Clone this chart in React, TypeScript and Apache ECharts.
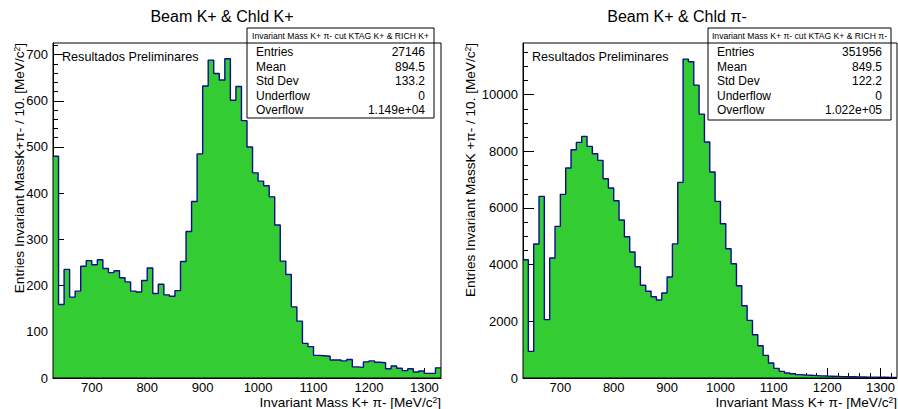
import React, { useEffect, useRef } from "react";
import * as echarts from "echarts";

// ---- data ----
const binStart = 630;
const binWidth = 10;
const xMin = 630;
const xMax = 1330;

const leftCounts = [
  480, 159, 235, 175, 188, 242, 254, 245, 256, 237,
  228, 232, 217, 208, 188, 186, 211, 238, 183, 203,
  180, 177, 189, 252, 317, 382, 485, 632, 688, 659,
  645, 691, 601, 631, 557, 500, 444, 426, 416, 392,
  331, 253, 224, 154, 123, 75, 68, 49, 48, 47,
  39, 39, 37, 40, 24, 23, 35, 37, 34, 33,
  20, 26, 21, 16, 20, 13, 15, 10, 10, 22,
];

const rightCounts = [
  4174, 941, 4727, 6408, 2058, 4233, 5350, 6479, 7407, 8054,
  8313, 8524, 8172, 7913, 7678, 7031, 6702, 6255, 5573, 4985,
  4444, 3927, 3274, 3062, 2868, 2750, 2997, 3561, 4732, 6902,
  11252, 11157, 10334, 9311, 8325, 7266, 6232, 5444, 4562, 4033,
  3256, 2549, 2032, 1526, 1138, 798, 527, 340, 234, 175,
  150, 120, 105, 95, 85, 75, 68, 62, 56, 50,
  46, 42, 38, 35, 32, 30, 27, 25, 22, 20,
];

const xMajorTicks = [700, 800, 900, 1000, 1100, 1200, 1300];
const xMinorTicks = [
  640, 660, 680, 720, 740, 760, 780, 820, 840, 860, 880, 920, 940, 960, 980,
  1020, 1040, 1060, 1080, 1120, 1140, 1160, 1180, 1220, 1240, 1260, 1280, 1320,
];
const leftYMajor = [0, 100, 200, 300, 400, 500, 600, 700];
const leftYMinor = [
  20, 40, 60, 80, 120, 140, 160, 180, 220, 240, 260, 280, 320, 340, 360, 380,
  420, 440, 460, 480, 520, 540, 560, 580, 620, 640, 660, 680, 720,
];
const rightYMajor = [0, 2000, 4000, 6000, 8000, 10000];
const rightYMinor = [
  500, 1000, 1500, 2500, 3000, 3500, 4500, 5000, 5500, 6500, 7000, 7500,
  8500, 9000, 9500, 10500, 11000, 11500,
];

const leftTitle = "Beam K+ & Chld K+";
const rightTitle = "Beam K+ & Chld π-";
const leftStatHeader = "Invariant Mass K+ π- cut KTAG K+ & RICH K+";
const rightStatHeader = "Invariant Mass K+ π- cut KTAG K+ & RICH π-";
const statLabels = ["Entries", "Mean", "Std Dev", "Underflow", "Overflow"];
const leftStatValues = ["27146", "894.5", "133.2", "0", "1.149e+04"];
const rightStatValues = ["351956", "849.5", "122.2", "0", "1.022e+05"];
const leftYTitle = "Entries Invariant MassK+π- / 10. [MeV/c";
const rightYTitle = "Entries Invariant MassK +π- / 10. [MeV/c";
const xTitle = "Invariant Mass K+ π- [MeV/c";
const prelimText = "Resultados Preliminares";

const FONT = '"Liberation Sans", Arial, Helvetica, sans-serif';

function histData(counts: number[]) {
  const d: number[][] = counts.map((v, i) => [binStart + i * binWidth, v]);
  d.push([xMax, counts[counts.length - 1]]);
  return d;
}

type Panel = {
  left: number; top: number; width: number; height: number; yMax: number;
  yMajor: number[]; yMinor: number[]; counts: number[];
  title: string; titleX: number; statHeader: string; statValues: string[];
  box: { x: number; y: number; w: number; h: number; labelX: number; valueX: number };
  yTitle: string; yTitleX: number;
};

const panels: Panel[] = [
  {
    left: 53, top: 43, width: 388, height: 335, yMax: 725,
    yMajor: leftYMajor, yMinor: leftYMinor, counts: leftCounts,
    title: leftTitle, titleX: 222, statHeader: leftStatHeader, statValues: leftStatValues,
    box: { x: 247, y: 28, w: 187, h: 90, labelX: 256, valueX: 425 },
    yTitle: leftYTitle, yTitleX: 19,
  },
  {
    left: 523, top: 43, width: 374, height: 335, yMax: 11820,
    yMajor: rightYMajor, yMinor: rightYMinor, counts: rightCounts,
    title: rightTitle, titleX: 677, statHeader: rightStatHeader, statValues: rightStatValues,
    box: { x: 708, y: 28, w: 183, h: 92, labelX: 717, valueX: 882 },
    yTitle: rightYTitle, yTitleX: 470,
  },
];

const plain = (v: number) => String(v);

export default function App() {
  const ref = useRef<HTMLDivElement>(null);
  useEffect(() => {
    if (!ref.current) return;
    const chart = echarts.init(ref.current, undefined, { renderer: "svg" });

    const grids: any[] = [];
    const xAxes: any[] = [];
    const yAxes: any[] = [];
    const series: any[] = [];
    const graphics: any[] = [];

    panels.forEach((p, pi) => {
      grids.push({ left: p.left, top: p.top, width: p.width, height: p.height, show: false });
      const baseX = {
        type: "value", gridIndex: pi, min: xMin, max: xMax, position: "bottom",
        splitLine: { show: false },
      };
      xAxes.push({
        ...baseX,
        axisLine: { show: true, onZero: false, lineStyle: { color: "#000", width: 1 } },
        axisTick: { show: true, inside: true, length: 10, customValues: xMajorTicks, lineStyle: { color: "#000", width: 1 } },
        axisLabel: { show: true, customValues: xMajorTicks, formatter: plain, margin: 3, fontSize: 13, color: "#000", fontFamily: FONT },
      });
      xAxes.push({
        ...baseX,
        axisLine: { show: false, onZero: false },
        axisTick: { show: true, inside: true, length: 5, customValues: xMinorTicks, lineStyle: { color: "#000", width: 1 } },
        axisLabel: { show: false },
      });
      const baseY = {
        type: "value", gridIndex: pi, min: 0, max: p.yMax, position: "left",
        splitLine: { show: false },
      };
      yAxes.push({
        ...baseY,
        axisLine: { show: true, onZero: false, lineStyle: { color: "#000", width: 1 } },
        axisTick: { show: true, inside: true, length: 11, customValues: p.yMajor, lineStyle: { color: "#000", width: 1 } },
        axisLabel: { show: true, customValues: p.yMajor, formatter: plain, margin: 5, fontSize: 13, color: "#000", fontFamily: FONT },
      });
      yAxes.push({
        ...baseY,
        axisLine: { show: false, onZero: false },
        axisTick: { show: true, inside: true, length: 5, customValues: p.yMinor, lineStyle: { color: "#000", width: 1 } },
        axisLabel: { show: false },
      });
      series.push({
        type: "line",
        xAxisIndex: pi * 2,
        yAxisIndex: pi * 2,
        data: histData(p.counts),
        step: "end",
        symbol: "none",
        silent: true,
        lineStyle: { color: "#0c0c90", width: 1.4 },
        areaStyle: { color: "#33cc33", opacity: 1 },
        z: 2,
      });

      // frame
      graphics.push({
        type: "rect", silent: true, z: 50,
        shape: { x: p.left, y: p.top, width: p.width, height: p.height },
        style: { fill: "none", stroke: "#000", lineWidth: 1 },
      });
      // title
      graphics.push({
        type: "text", silent: true, z: 60, x: p.titleX, y: 16,
        style: { text: p.title, fontSize: 16, fontFamily: FONT, fill: "#000", align: "center", verticalAlign: "middle" },
      });
      // preliminary
      graphics.push({
        type: "text", silent: true, z: 60, x: p.left + 9, y: 57,
        style: { text: prelimText, fontSize: 12.6, fontFamily: FONT, fill: "#000", align: "left", verticalAlign: "middle" },
      });
      // stat box
      const b = p.box;
      graphics.push({
        type: "rect", silent: true, z: 70,
        shape: { x: b.x, y: b.y, width: b.w, height: b.h },
        style: { fill: "#fff", stroke: "#000", lineWidth: 1 },
      });
      graphics.push({
        type: "line", silent: true, z: 71,
        shape: { x1: b.x, y1: p.top, x2: b.x + b.w, y2: p.top },
        style: { stroke: "#000", lineWidth: 1 },
      });
      graphics.push({
        type: "text", silent: true, z: 72, x: b.x + b.w / 2, y: (b.y + p.top) / 2 + 0.5,
        style: { text: p.statHeader, fontSize: 8.6, fontFamily: FONT, fill: "#000", align: "center", verticalAlign: "middle" },
      });
      statLabels.forEach((lab, i) => {
        const yy = 52 + i * 14.6;
        graphics.push({
          type: "text", silent: true, z: 72, x: b.labelX, y: yy,
          style: { text: lab, fontSize: 12, fontFamily: FONT, fill: "#000", align: "left", verticalAlign: "middle" },
        });
        graphics.push({
          type: "text", silent: true, z: 72, x: b.valueX, y: yy,
          style: { text: p.statValues[i], fontSize: 12, fontFamily: FONT, fill: "#000", align: "right", verticalAlign: "middle" },
        });
      });
      // y title
      graphics.push({
        type: "text", silent: true, z: 60, x: p.yTitleX, y: p.top, rotation: Math.PI / 2,
        style: {
          text: "{a|" + p.yTitle + "}{s|2}{a|]}",
          rich: {
            a: { fontSize: 13.6, fontFamily: FONT, fill: "#000" },
            s: { fontSize: 8.5, fontFamily: FONT, fill: "#000", verticalAlign: "top" },
          },
          align: "right", verticalAlign: "middle",
        },
      });
      // x title
      graphics.push({
        type: "text", silent: true, z: 60, x: p.left + p.width, y: 402,
        style: {
          text: "{a|" + xTitle + "}{s|2}{a|]}",
          rich: {
            a: { fontSize: 13.6, fontFamily: FONT, fill: "#000" },
            s: { fontSize: 8.5, fontFamily: FONT, fill: "#000", verticalAlign: "top" },
          },
          align: "right", verticalAlign: "middle",
        },
      });
    });

    chart.setOption({
      animation: false,
      backgroundColor: "#fff",
      grid: grids,
      xAxis: xAxes,
      yAxis: yAxes,
      series,
      graphic: graphics,
    });
    return () => chart.dispose();
  }, []);

  return (
    <div
      ref={ref}
      style={{ position: "fixed", left: 0, top: 0, width: 898, height: 409, background: "#fff" }}
    />
  );
}
